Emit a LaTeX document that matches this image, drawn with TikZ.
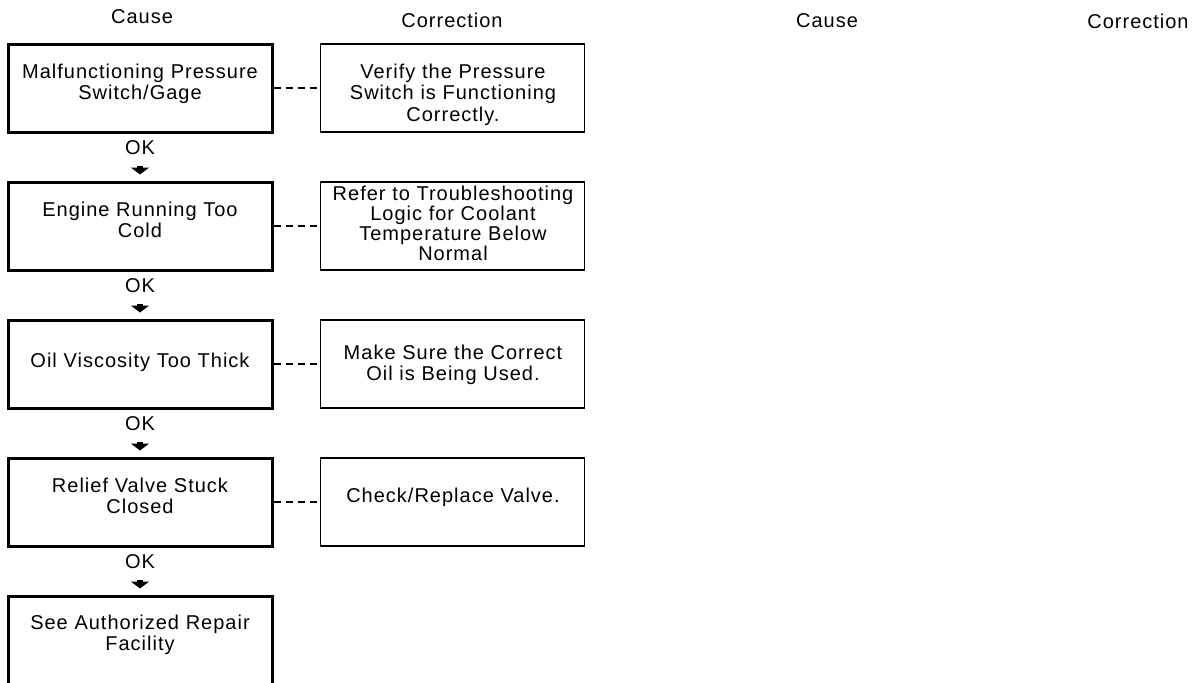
\documentclass[tikz,border=0pt]{standalone}
\usepackage{fontspec}
\setmainfont{Liberation Sans}[LetterSpace=5]
\usetikzlibrary{arrows.meta,positioning}
\tikzset{
  causebox/.style={draw=black,line width=1.5pt,minimum width=132pt,minimum height=44pt,inner sep=0pt},
  fixbox/.style={draw=black,line width=0.9pt,minimum width=132pt,minimum height=44pt,inner sep=0pt},
  boxtext/.style={text width=132pt,align=center,anchor=base,inner sep=0pt,font=\fontsize{10}{10.75}\selectfont},
  heading/.style={anchor=base,inner sep=0pt,font=\fontsize{10}{12}\selectfont},
  oklabel/.style={inner sep=0pt,font=\fontsize{10}{12}\selectfont},
  okarrow/.style={-{Triangle[width=9pt,length=3.5pt]},line width=3pt,shorten <=5.5pt,shorten >=3pt},
  linkpath/.style={line width=0.9pt,dash pattern=on 3.5pt off 2.5pt}
}
\begin{document}
\begin{tikzpicture}[x=0.5pt,y=-0.5pt]
\useasboundingbox (0,0) rectangle (1196,682);
\clip (0,0) rectangle (1196,682);
\node[heading](hcause) at (142,23.5){Cause};
\node[heading](hcorr) at (452,27.5){Correction};
\node[heading](hcause2) at (827,27.5){Cause};
\node[heading](hcorr2) at (1138,28){Correction};
\node[causebox](c1) at (140,88){};
\node[causebox](c2) at (140,226){};
\node[causebox](c3) at (140,364){};
\node[causebox](c4) at (140,502){};
\node[causebox](c5) at (140,640){};
\node[fixbox,right=23pt of c1](r1){};
\node[fixbox,right=23pt of c2](r2){};
\node[fixbox,right=23pt of c3](r3){};
\node[fixbox,right=23pt of c4](r4){};
\node[boxtext](c1t) at (140,78){Malfunctioning Pressure\\Switch/Gage};
\node[boxtext](c2t) at (140,216){Engine Running Too\\Cold};
\node[boxtext](c3t) at (140,367){Oil Viscosity Too Thick};
\node[boxtext](c4t) at (140,492){Relief Valve Stuck\\Closed};
\node[boxtext](c5t) at (140,629){See Authorized Repair\\Facility};
\node[boxtext](r1t) at (453,78){Verify the Pressure\\Switch is Functioning\\Correctly.};
\node[boxtext,font=\fontsize{10}{10}\selectfont](r2t) at (453,200){Refer to Troubleshooting\\Logic for Coolant\\Temperature Below\\Normal};
\node[boxtext](r3t) at (453,359){Make Sure the Correct\\Oil is Being Used.};
\node[boxtext](r4t) at (453,502){Check/Replace Valve.};
\node[oklabel](ok1) at (140,148){OK};
\node[oklabel](ok2) at (140,286){OK};
\node[oklabel](ok3) at (140,424){OK};
\node[oklabel](ok4) at (140,562){OK};
\draw[okarrow](ok1)--(c2);
\draw[okarrow](ok2)--(c3);
\draw[okarrow](ok3)--(c4);
\draw[okarrow](ok4)--(c5);
\draw[linkpath](c1)--(r1);
\draw[linkpath](c2)--(r2);
\draw[linkpath](c3)--(r3);
\draw[linkpath](c4)--(r4);
\end{tikzpicture}
\end{document}
